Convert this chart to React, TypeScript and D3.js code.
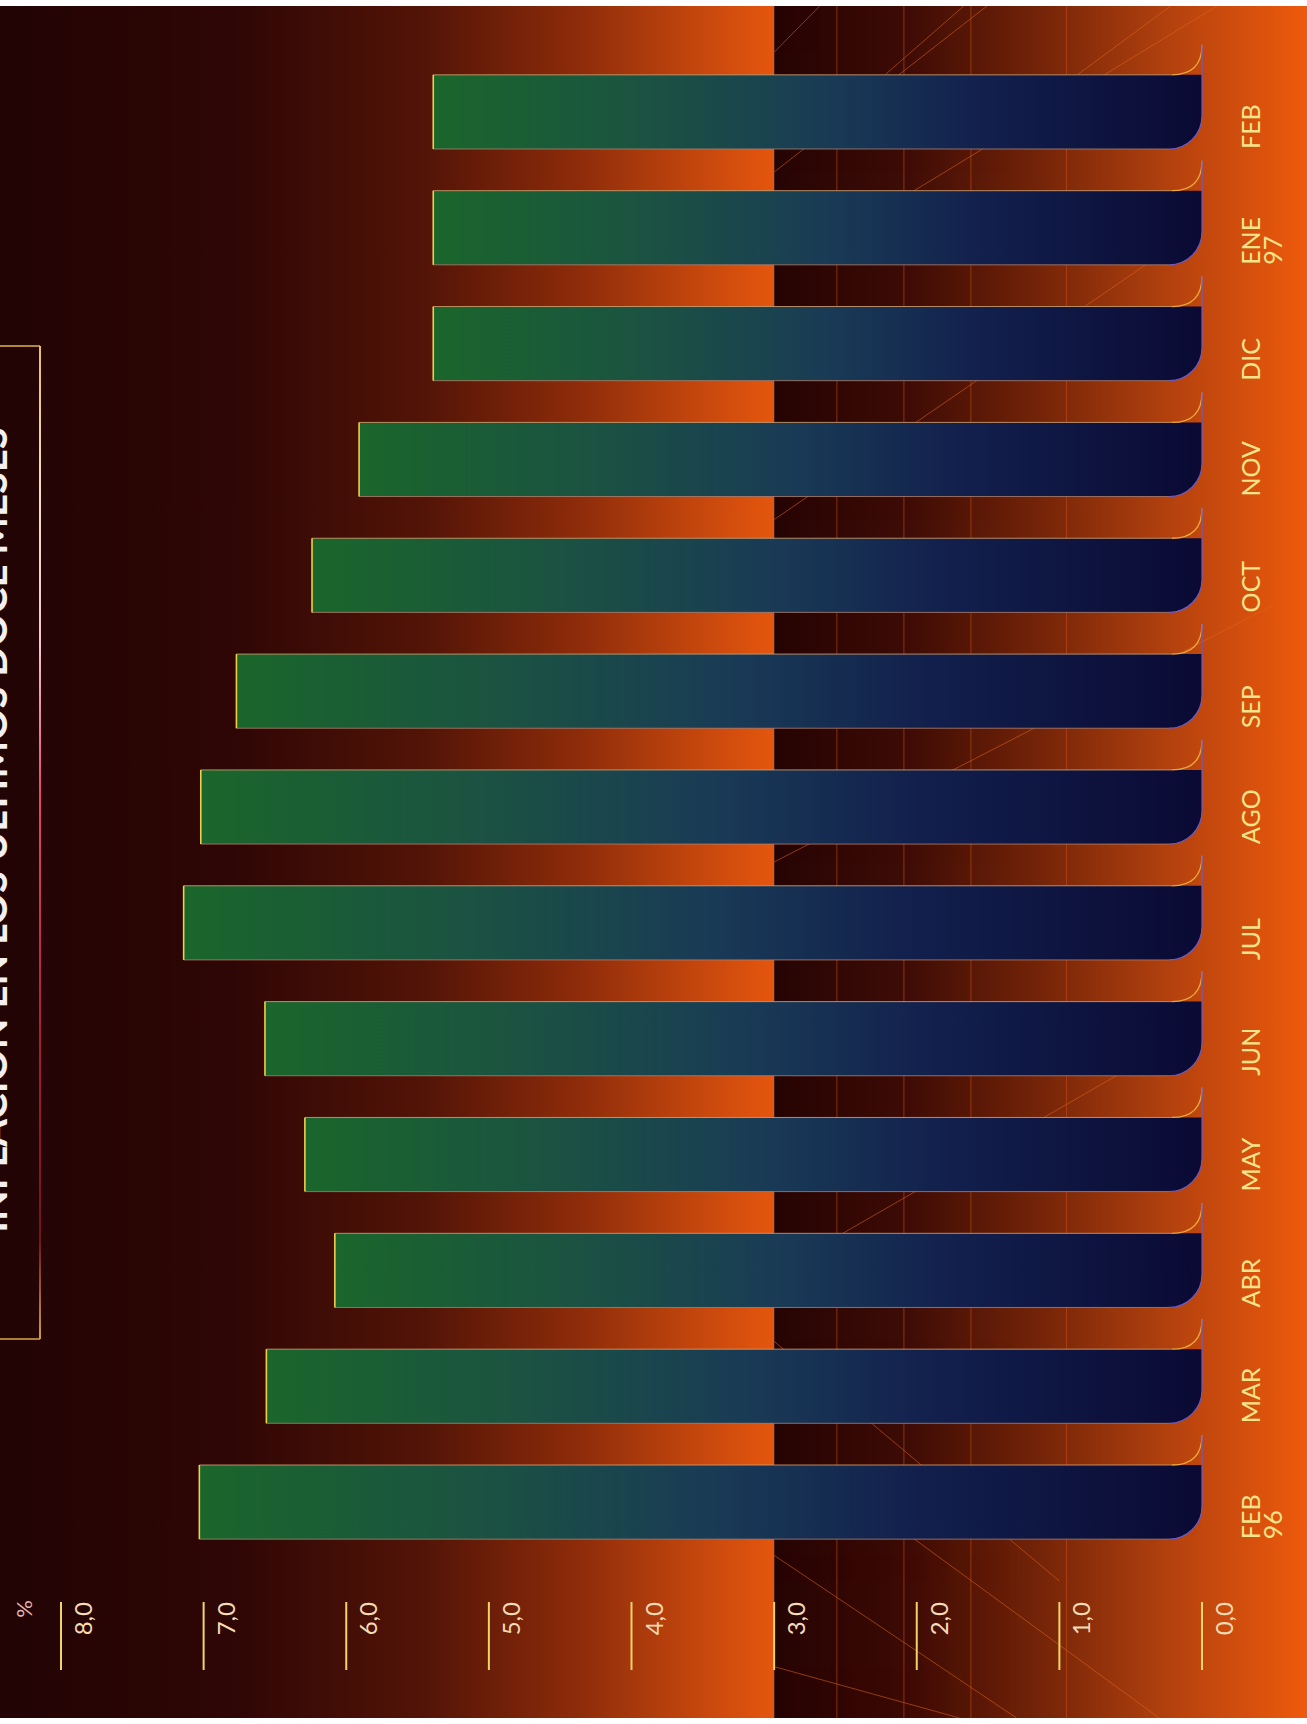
import React from "react";
import * as d3 from "d3";

// ---------- data ----------
const categories = ["FEB 96", "MAR 96", "ABR 96", "MAY 96", "JUN 96", "JUL 96", "AGO 96", "SEP 96", "OCT 96", "NOV 96", "DIC 96", "ENE 97", "FEB 97"];
const categoryLabels = [["FEB", "96"], ["MAR"], ["ABR"], ["MAY"], ["JUN"], ["JUL"], ["AGO"], ["SEP"], ["OCT"], ["NOV"], ["DIC"], ["ENE", "97"], ["FEB"]];
const inflation = [7.03, 6.56, 6.08, 6.29, 6.57, 7.14, 7.02, 6.77, 6.24, 5.91, 5.39, 5.39, 5.39];
const valueTicks = [0, 1, 2, 3, 4, 5, 6, 7, 8];
const unitLabel = "%";
const titleText = "INFLACIÓN EN LOS ÚLTIMOS DOCE MESES";
const guideValues = [2.56, 2.09, 1.62, 0.95];
const panelSplitValue = 3;
// decorative diagonals: [value1, frac1, value2, frac2] (frac = share of chart height)
const diagonals = [
  [3, 0.027, 2.68, 0.0],
  [2.22, 0.04, 1.67, 0.0],
  [0.87, 0.04, 0.22, 0.0],
  [3, 0.097, 1.2, -0.02],
  [2.06, 0.11, -0.5, -0.02],
  [3, 0.3, 0.2, 0.14],
  [3, 0.5, -0.5, 0.35],
  [3, 0.74, 0.5, 0.62],
  [3, 0.78, 1.0, 0.92],
  [2.6, 0.86, 0.3, 1.0],
  [3, 0.905, 1.3, 1.0],
  [3, 0.97, 1.7, 1.0],
];

const W = 1307;
const H = 1724;
const BG_TOP = 6;
const BG_BOTTOM = 1718;

const fmt = (v: number) => d3.format(".1f")(v).replace(".", ",");

export default function App() {
  const x = d3.scaleLinear().domain([0, 8]).range([1202, 61]);
  const y = d3
    .scaleBand<string>()
    .domain(categories.slice().reverse())
    .range([54, 1560])
    .paddingInner(0.36)
    .paddingOuter(0.18);
  const yFrac = d3.scaleLinear().domain([0, 1]).range([BG_TOP, BG_BOTTOM]);
  const bw = y.bandwidth();
  const x0 = x(0);
  const xs = x(panelSplitValue);
  const r = 33;
  const f = 30;
  const font = "Lato, 'Open Sans', 'DejaVu Sans', sans-serif";

  return (
    <div style={{ position: "absolute", left: 0, top: 0 }}>
      <svg width={W} height={H} style={{ display: "block", background: "#ffffff" }}>
        <defs>
          <linearGradient id="panelA" gradientUnits="userSpaceOnUse" x1={0} x2={xs} y1={0} y2={0}>
            <stop offset="0" stopColor="#220404" />
            <stop offset="0.3" stopColor="#2e0605" />
            <stop offset="0.55" stopColor="#531407" />
            <stop offset="0.75" stopColor="#8e2c0a" />
            <stop offset="0.9" stopColor="#c4460d" />
            <stop offset="1" stopColor="#e5560e" />
          </linearGradient>
          <linearGradient id="panelB" gradientUnits="userSpaceOnUse" x1={xs} x2={W} y1={0} y2={0}>
            <stop offset="0" stopColor="#260404" />
            <stop offset="0.25" stopColor="#3e0c06" />
            <stop offset="0.5" stopColor="#742408" />
            <stop offset="0.75" stopColor="#b5420e" />
            <stop offset="1" stopColor="#ee5a0c" />
          </linearGradient>
          <linearGradient id="barFill" x1="0" x2="1" y1="0" y2="0">
            <stop offset="0" stopColor="#1a662b" />
            <stop offset="0.28" stopColor="#1b5242" />
            <stop offset="0.52" stopColor="#193a56" />
            <stop offset="0.72" stopColor="#121f4c" />
            <stop offset="1" stopColor="#0a0a34" />
          </linearGradient>
          <linearGradient id="boxEdge" gradientUnits="userSpaceOnUse" x1={0} x2={0} y1={346} y2={1339}>
            <stop offset="0" stopColor="#e8c060" />
            <stop offset="0.15" stopColor="#f2e2c0" />
            <stop offset="0.3" stopColor="#f4c8d0" />
            <stop offset="0.45" stopColor="#e04a70" />
            <stop offset="0.7" stopColor="#a0203a" />
            <stop offset="0.9" stopColor="#70141c" />
            <stop offset="1" stopColor="#d0a040" />
          </linearGradient>
          <clipPath id="panelBClip">
            <rect x={xs} y={BG_TOP} width={W - xs} height={BG_BOTTOM - BG_TOP} />
          </clipPath>
        </defs>

        {/* background panels */}
        <rect x={0} y={BG_TOP} width={xs} height={BG_BOTTOM - BG_TOP} fill="url(#panelA)" />
        <rect x={xs} y={BG_TOP} width={W - xs} height={BG_BOTTOM - BG_TOP} fill="url(#panelB)" />

        {/* decorative guides */}
        {guideValues.map((g, i) => (
          <line key={"g" + i} x1={x(g)} x2={x(g)} y1={BG_TOP} y2={BG_BOTTOM} stroke="#c44c14" strokeWidth={1} opacity={0.6} />
        ))}
        <g clipPath="url(#panelBClip)">
          {diagonals.map((d, i) => (
            <line key={"d" + i} x1={x(d[0])} y1={yFrac(d[1])} x2={x(d[2])} y2={yFrac(d[3])} stroke="#e4661c" strokeWidth={1} opacity={0.55} />
          ))}
        </g>

        {/* title box (cropped at the page edge) */}
        <svg x={0} y={346} width={8} height={993} overflow="hidden">
          <text
            transform={`translate(7, ${(363 + 1297) / 2 - 346}) rotate(-90)`}
            textAnchor="middle"
            fontFamily={font}
            fontWeight={700}
            fontSize={40}
            fill="#f4f0f0"
          >
            {titleText}
          </text>
        </svg>
        <line x1={0} x2={40} y1={346} y2={346} stroke="#e0b448" strokeWidth={1.5} />
        <line x1={0} x2={40} y1={1339} y2={1339} stroke="#d8a848" strokeWidth={1.5} />
        <line x1={40} x2={40} y1={346} y2={1339} stroke="url(#boxEdge)" strokeWidth={2} />

        {/* bars */}
        {categories.map((c, i) => {
          const yt = y(c) as number;
          const yb = yt + bw;
          const xv = x(inflation[i]);
          const fillPath = `M${xv},${yt} L${x0},${yt} L${x0},${yb - r} A${r},${r} 0 0 1 ${x0 - r},${yb} L${xv},${yb} Z`;
          const flare = `M${x0 - f},${yt} Q${x0},${yt} ${x0},${yt - f}`;
          const edge = `M${x0},${yt - f} L${x0},${yb - r} A${r},${r} 0 0 1 ${x0 - r},${yb}`;
          return (
            <g key={c}>
              <path d={fillPath} fill="url(#barFill)" />
              <line x1={xv} x2={x0 - f} y1={yt} y2={yt} stroke="#d0a070" strokeWidth={1} opacity={0.85} />
              <line x1={xv} x2={x0 - r} y1={yb} y2={yb} stroke="#b08070" strokeWidth={1} opacity={0.8} />
              <line x1={xv} x2={xv} y1={yt} y2={yb} stroke="#f0d048" strokeWidth={1.6} />
              <path d={flare} fill="none" stroke="#e8a83c" strokeWidth={1.3} />
              <path d={edge} fill="none" stroke="#6a5ac8" strokeWidth={1.2} />
            </g>
          );
        })}

        {/* category labels */}
        {categories.map((c, i) => {
          const yb = (y(c) as number) + bw;
          return (
            <g key={"l" + c}>
              {categoryLabels[i].map((t, k) => (
                <text
                  key={k}
                  transform={`translate(${1260 + k * 22}, ${yb}) rotate(-90)`}
                  textAnchor="start"
                  fontFamily={font}
                  fontSize={25}
                  fill="#f6e48a"
                >
                  {t}
                </text>
              ))}
            </g>
          );
        })}

        {/* value axis */}
        {valueTicks.map((t) => (
          <g key={"t" + t}>
            <line x1={x(t)} x2={x(t)} y1={1602} y2={1670} stroke="#f0d468" strokeWidth={2} />
            <text
              transform={`translate(${x(t) + 31}, 1602) rotate(-90)`}
              textAnchor="end"
              fontFamily={font}
              fontSize={24}
              fill="#f4dcb4"
            >
              {fmt(t)}
            </text>
          </g>
        ))}
        <text
          transform={`translate(32, 1600) rotate(-90)`}
          textAnchor="end"
          fontFamily={font}
          fontSize={22}
          fill="#eab4b0"
        >
          {unitLabel}
        </text>
      </svg>
    </div>
  );
}
